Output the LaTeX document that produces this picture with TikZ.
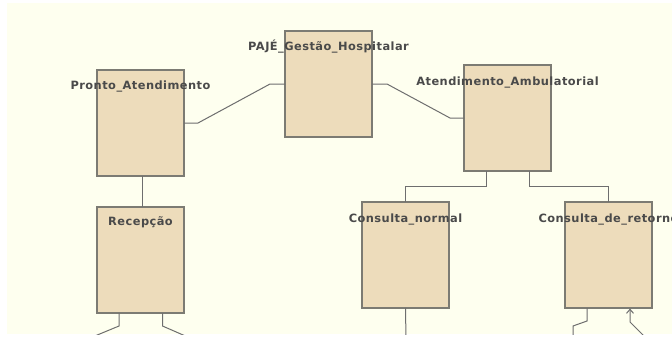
\documentclass[tikz,border=0pt]{standalone}
\usepackage{fontspec}
\usetikzlibrary{calc,arrows.meta}
\newfontfamily\lblfont{DejaVu Sans}[LetterSpace=4]
\definecolor{paper}{HTML}{FEFFEF}
\definecolor{boxfill}{HTML}{EDDCBB}
\definecolor{boxline}{HTML}{7C7B73}
\definecolor{wirecol}{HTML}{6E6E6E}
\definecolor{labelcol}{HTML}{4A4A4A}
\tikzset{
  unitbox/.style={rectangle, draw=boxline, fill=boxfill, line width=1.1pt,
    inner sep=0pt, outer sep=0pt, minimum width=87pt, minimum height=106pt, anchor=north west},
  unitlabel/.style={anchor=base, inner sep=0pt, text=labelcol,
    font=\lblfont\bfseries\fontsize{11.4}{13}\selectfont},
  wire/.style={draw=wirecol, line width=1pt},
  uparrow/.style={wire, -{Straight Barb[length=4pt,width=7pt]}}
}
\begin{document}
\begin{tikzpicture}[x=1pt,y=-1pt]
  \useasboundingbox (0,0) rectangle (672,338);
  \fill[white] (0,0) rectangle (672,338);
  \fill[paper] (7,3) rectangle (672,334);
  \begin{scope}
    \clip (7,3) rectangle (672,334);
    % units
    \node[unitbox] (pronto) at (97,70) {};
    \node[unitbox] (paje) at (285,31) {};
    \node[unitbox] (amb) at (464,65) {};
    \node[unitbox] (recep) at (97,207) {};
    \node[unitbox] (normal) at (362,202) {};
    \node[unitbox] (retorno) at (565,202) {};
    % names
    \node[unitlabel] (lpronto) at ($(pronto.north)+(0,19)$) {Pronto\_Atendimento};
    \node[unitlabel] (lpaje) at ($(paje.north)+(0,19)$) {PAJÉ\_Gestão\_Hospitalar};
    \node[unitlabel] (lamb) at ($(amb.north)+(0,20)$) {Atendimento\_Ambulatorial};
    \node[unitlabel] (lrecep) at ($(recep.north)+(0,18)$) {Recepção};
    \node[unitlabel] (lnormal) at ($(normal.north)+(0,20)$) {Consulta\_normal};
    \node[unitlabel] (lretorno) at ($(retorno.north)+(0,20)$) {Consulta\_de\_retorno};
    % loose ends running below the visible area
    \coordinate (recepL) at (90,338);
    \coordinate (recepR) at (190,338);
    \coordinate (normalD) at (406,340);
    \coordinate (retornoD) at (573,340);
    \coordinate (retornoIn) at (648,340);
    % links between units
    \draw[wire] (pronto.east) -- ++(14,0) -- ($(paje.west)+(-15,0)$) -- (paje.west);
    \draw[wire] (paje.east) -- ++(15,0) -- ($(amb.west)+(-14,0)$) -- (amb.west);
    \draw[wire] ($(pronto.south)+(1.5,0)$) -- ($(recep.north)+(1.5,0)$);
    \draw[wire] ($(amb.south)+(-21.5,0)$) -- ++(0,15) -| (normal.north);
    \draw[wire] ($(amb.south)+(21.5,0)$) -- ++(0,15) -| (retorno.north);
    \draw[wire] ($(recep.south)+(-21.5,0)$) -- ++(0,13) -- (recepL);
    \draw[wire] ($(recep.south)+(22,0)$) -- ++(0,13) -- (recepR);
    \draw[wire] (normal.south) -- (normalD);
    \draw[wire] ($(retorno.south)+(-21.5,0)$) -- ++(0,13) -- ++(-14,5) -- (retornoD);
    \draw[uparrow] (retornoIn) -- ($(retorno.south)+(21.5,14)$) -- ($(retorno.south)+(21.5,0.6)$);
  \end{scope}
\end{tikzpicture}
\end{document}
